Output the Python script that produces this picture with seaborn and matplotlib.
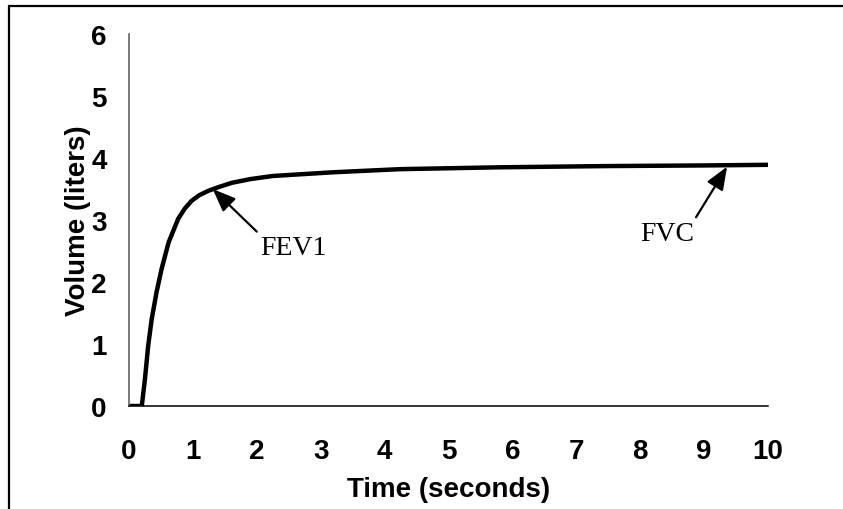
import matplotlib
matplotlib.use("Agg")
import matplotlib.pyplot as plt
import matplotlib.patches as patches
import pandas as pd
import seaborn as sns

# spirometry curve
time_s = [0, 0.2, 0.25, 0.30, 0.355, 0.43, 0.51, 0.62, 0.77, 0.87, 0.98,
          1.1, 1.24, 1.4, 1.61, 1.9, 2.25, 3.2, 4.24, 5.8, 7.5, 9.0, 10]
volume_l = [0, 0, 0.44, 0.97, 1.40, 1.83, 2.21, 2.64, 3.02, 3.18, 3.31,
            3.40, 3.47, 3.53, 3.60, 3.66, 3.71, 3.77, 3.82, 3.85, 3.87,
            3.88, 3.89]
x_ticks = list(range(0, 11))
y_ticks = list(range(0, 7))

# annotation anchors (data units)
fev1_point = (1.31, 3.50)
fev1_text = (2.57, 2.56)
fvc_point = (9.36, 3.86)
fvc_text = (8.42, 2.79)

df = pd.DataFrame({"time": time_s, "volume": volume_l})

sns.set_style("white")
plt.rcParams['font.family'] = ['Liberation Sans', 'DejaVu Sans']
plt.rcParams['text.color'] = 'black'
plt.rcParams['axes.labelcolor'] = 'black'
plt.rcParams['xtick.color'] = 'black'
plt.rcParams['ytick.color'] = 'black'

fig = plt.figure(figsize=(8.43, 5.10), dpi=100)
ax = fig.add_axes([129 / 843, 103 / 510, 639 / 843, 372 / 510])

sns.lineplot(data=df, x="time", y="volume", sort=False, color="black",
             linewidth=3.2, ax=ax)

ax.set_xlim(0, 10)
ax.set_ylim(0, 6)
ax.set_xticks(x_ticks)
ax.set_yticks(y_ticks)
ax.set_xticklabels([str(v) for v in x_ticks], fontsize=20, fontweight="bold")
ax.set_yticklabels([str(v) for v in y_ticks], fontsize=20, fontweight="bold")
ax.tick_params(axis="x", length=0, pad=23)
ax.tick_params(axis="y", length=0, pad=16)
ax.set_xlabel("Time (seconds)", fontsize=20, fontweight="bold", labelpad=9)
ax.set_ylabel("Volume (liters)", fontsize=20, fontweight="bold", labelpad=0)

for side in ["top", "right"]:
    ax.spines[side].set_visible(False)
ax.spines["left"].set_color("#707070")
ax.spines["left"].set_linewidth(1.3)
ax.spines["bottom"].set_color("black")
ax.spines["bottom"].set_linewidth(1.1)

arrow = dict(arrowstyle="-|>,head_length=0.7,head_width=0.28",
             color="black", lw=1.6, shrinkA=0, shrinkB=0)
ax.annotate("FEV1", xy=fev1_point, xytext=fev1_text, ha="center",
            va="center", fontsize=20, family="Liberation Serif",
            arrowprops=dict(arrow, relpos=(0.0, 1.0), mutation_scale=20))
ax.annotate("FVC", xy=fvc_point, xytext=fvc_text, ha="center",
            va="center", fontsize=20, family="Liberation Serif",
            arrowprops=dict(arrow, relpos=(1.0, 1.0), mutation_scale=20))

# frame round the picture (right and bottom edges fall outside)
frame = patches.Rectangle((8.5 / 843, -0.1), 1.2, 1.1 - 6.5 / 510,
                          transform=fig.transFigure, fill=False,
                          edgecolor="black", linewidth=1.6, clip_on=False)
fig.patches.append(frame)

fig.savefig("out.png", dpi=100)
